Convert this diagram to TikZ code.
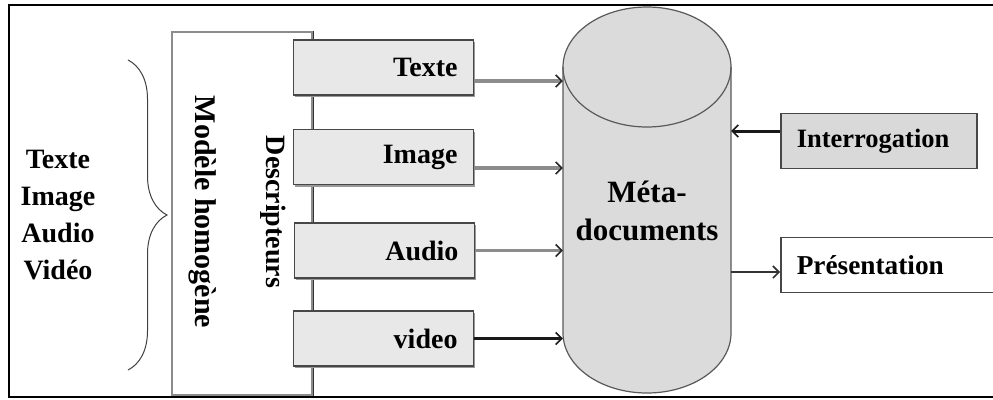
\documentclass[tikz,border=0pt]{standalone}
\usepackage{fontspec}
\setmainfont{Liberation Serif}
\usetikzlibrary{arrows.meta,decorations.pathreplacing,shadows}
\begin{document}
\begin{tikzpicture}[x=1pt,y=-1pt,
  lbl/.style={font=\fontsize{28}{37}\selectfont\bfseries},
  descbox/.style={draw=black!72, line width=1.5pt, fill=black!9,
    minimum width=180pt, minimum height=55pt, text width=148pt,
    inner xsep=16pt, inner ysep=0pt, align=right, lbl,
    drop shadow={shadow xshift=1.5pt, shadow yshift=-2pt, fill=black!40, opacity=1}},
  sidebox/.style={draw=black!72, line width=1.5pt, minimum height=55pt,
    inner xsep=16pt, inner ysep=0pt, align=left, lbl, anchor=west},
  garrow/.style={draw=black!45, line width=3.5pt,
    -{Straight Barb[length=6pt,width=12pt,line width=1.6pt,color=black!85]}},
  karrow/.style={draw=black!90, line width=3pt,
    -{Straight Barb[length=6pt,width=12pt,line width=1.6pt]}},
  thinarrow/.style={draw=black!80, line width=2pt,
    -{Straight Barb[length=6pt,width=12pt,line width=1.6pt]}}
]
\useasboundingbox (0,0) rectangle (993,399);
\clip (0,0) rectangle (993,399);

% outer frame
\draw[line width=1.3pt] (9,5) rectangle (1010,397);

% left list and brace
\node[lbl, align=center] (media) at (58,215) {Texte\\Image\\Audio\\Vidéo};
\coordinate (bracetop) at (128,60);
\coordinate (bracebot) at (128,370);
\draw[black!75, line width=1pt, decorate, decoration={brace, amplitude=39pt}] (bracetop) -- (bracebot);

% homogeneous model box
\node[draw=black!45, line width=2.2pt, minimum width=140pt, minimum height=363pt, inner sep=0pt] (model) at (242,213.5) {};
\draw[black!80, line width=1pt] (model.north east) -- (model.south east);
\node[lbl, font=\fontsize{30}{36}\selectfont\bfseries, rotate=-90] (modtxt) at (203,212) {Modèle homogène};
\node[lbl, rotate=-90] (desctxt) at (273,212) {Descripteurs};

% descriptor boxes
\node[descbox] (texte) at (383.5,67.5) {Texte};
\node[descbox] (image) at (383.5,157) {Image};
\node[descbox] (audio) at (384.5,250.5) {Audio};
\node[descbox] (video) at (383.5,338.5) {video};

% cylinder
\node[minimum width=168pt, minimum height=386pt, inner sep=0pt] (cyl) at (647,200) {};
\filldraw[fill=black!14, draw=black!65, line width=1.2pt]
  (563,67) -- (563,333) arc[start angle=180, end angle=360, x radius=84pt, y radius=60pt]
  -- (731,67) arc[start angle=0, end angle=180, x radius=84pt, y radius=60pt] -- cycle;
\draw[black!65, line width=1.2pt] (563,67) arc[start angle=180, end angle=360, x radius=84pt, y radius=60pt];
\node[font=\fontsize{31}{38}\selectfont\bfseries, align=center] (meta) at (647,211) {Méta-\\documents};

% right boxes
\node[sidebox, fill=black!15, minimum width=196pt, text width=164pt,
      font=\fontsize{26.5}{32}\selectfont\bfseries] (interro) at (780,141) {Interrogation};
\node[sidebox, fill=white, minimum width=260pt, text width=228pt,
      font=\fontsize{27.3}{33}\selectfont\bfseries] (pres) at (780,265) {Présentation};

% arrows into cylinder
\path ([yshift=-13.5pt]texte.east) coordinate (a1)
      ([yshift=-11pt]image.east) coordinate (a2)
      (audio.east) coordinate (a3)
      (video.east) coordinate (a4);
\draw[garrow] (a1) -- (a1 -| cyl.west);
\draw[garrow] (a2) -- (a2 -| cyl.west);
\draw[garrow] (a3) -- (a3 -| cyl.west);
\draw[karrow] (a4) -- (a4 -| cyl.west);

\path ([yshift=10pt]interro.west) coordinate (b1)
      ([yshift=-7pt]pres.west) coordinate (b2);
\draw[karrow] (b1) -- (b1 -| cyl.east);
\draw[thinarrow] (b2 -| cyl.east) -- (b2);
\end{tikzpicture}
\end{document}
